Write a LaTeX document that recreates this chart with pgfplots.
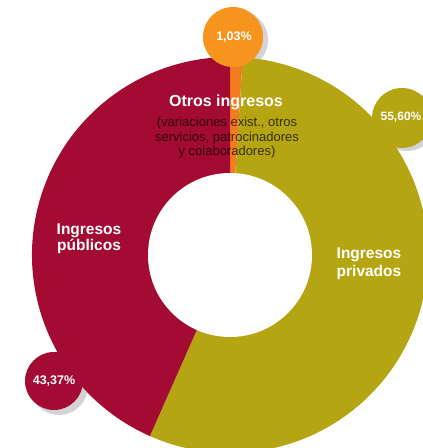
\documentclass[border=0pt]{standalone}
\usepackage{fontspec}
\setmainfont{Liberation Sans}
\usepackage{pgfplots}
\usepackage{pgfplotstable}
\pgfplotsset{compat=1.18}
\definecolor{publico}{HTML}{A30B32}
\definecolor{privado}{HTML}{B5A512}
\definecolor{otros}{HTML}{F47B20}
\definecolor{otrosb}{HTML}{F7941D}
\definecolor{sombra}{HTML}{D3D3D5}

\pgfplotstableread{
name value
otros 1.03
privados 55.60
publicos 43.37
}\pietable

\begin{document}
\begin{tikzpicture}
\path[use as bounding box] (0,0) rectangle (423pt,448pt);
\pgfplotstablegetelem{0}{value}\of\pietable \pgfmathsetmacro{\vA}{\pgfplotsretval}
\pgfplotstablegetelem{1}{value}\of\pietable \pgfmathsetmacro{\vB}{\pgfplotsretval}
\pgfplotstablegetelem{2}{value}\of\pietable \pgfmathsetmacro{\vC}{\pgfplotsretval}
\pgfmathsetmacro{\aA}{90}
\pgfmathsetmacro{\aB}{90-3.6*\vA}
\pgfmathsetmacro{\aC}{\aB-3.6*\vB}
\pgfmathsetmacro{\aD}{\aC-3.6*\vC}
\begin{axis}[at={(0,0)},anchor=south west,x=1pt,y=1pt,xmin=0,xmax=423,ymin=0,ymax=448,hide axis,scale only axis]
% shadows
\fill[sombra] (axis cs:238,408) circle[radius=30pt];
\fill[sombra] (axis cs:407,327) circle[radius=30pt];
\fill[sombra] (axis cs:59,62) circle[radius=29pt];
% ring
\fill[otros] (axis cs:230,193) -- ++(\aA:198pt) arc[start angle=\aA, end angle=\aB, radius=198pt] -- cycle;
\fill[privado] (axis cs:230,193) -- ++(\aB:198pt) arc[start angle=\aB, end angle=\aC, radius=198pt] -- cycle;
\fill[publico] (axis cs:230,193) -- ++(\aC:198pt) arc[start angle=\aC, end angle=\aD, radius=198pt] -- cycle;
\fill[white] (axis cs:230,193) circle[radius=82pt];
% bubbles
\fill[otrosb] (axis cs:233,411) circle[radius=30pt];
\fill[privado] (axis cs:402,330) circle[radius=30pt];
\fill[publico] (axis cs:54,67) circle[radius=29pt];
\node[text=white,font=\bfseries\fontsize{12.5}{14}\selectfont] at (axis cs:234,411) {1,03\%};
\node[text=white,font=\bfseries\fontsize{12}{14}\selectfont] at (axis cs:401,331) {55,60\%};
\node[text=white,font=\bfseries\fontsize{12.5}{14}\selectfont] at (axis cs:54,67) {43,37\%};
% labels
\node[text=white,font=\bfseries\fontsize{16}{18}\selectfont] at (axis cs:226,346) {Otros ingresos};
\node[text=black,text opacity=0.7,align=center,font=\fontsize{13}{14.5}\selectfont] at (axis cs:227,310) {(variaciones exist., otros\\servicios, patrocinadores\\y colaboradores)};
\node[text=white,align=center,font=\bfseries\fontsize{15.5}{16.5}\selectfont] at (axis cs:89,209) {Ingresos\\públicos};
\node[text=white,align=center,font=\bfseries\fontsize{15.5}{18}\selectfont] at (axis cs:369,184) {Ingresos\\privados};
\end{axis}
\end{tikzpicture}
\end{document}
